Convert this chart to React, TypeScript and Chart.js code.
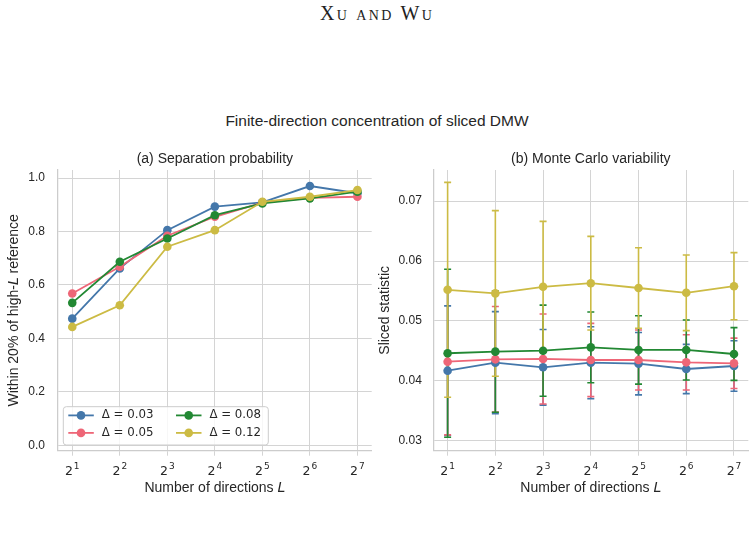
import React, { useEffect, useRef } from 'react';
import { Chart, registerables } from 'chart.js';

Chart.register(...registerables);

// ---------- data ----------
const directions = [2, 4, 8, 16, 32, 64, 128];
const deltaLabels = ['Δ = 0.03', 'Δ = 0.05', 'Δ = 0.08', 'Δ = 0.12'];
const seriesColors = ['#4477AA', '#EE6677', '#228833', '#CCBB44'];

// (a) Separation probability
const sepD003 = [0.474, 0.662, 0.805, 0.893, 0.909, 0.970, 0.943];
const sepD005 = [0.568, 0.668, 0.784, 0.855, 0.908, 0.926, 0.930];
const sepD008 = [0.533, 0.687, 0.774, 0.861, 0.905, 0.924, 0.949];
const sepD012 = [0.443, 0.524, 0.743, 0.805, 0.911, 0.930, 0.955];
const sepTicks = [0, 0.2, 0.4, 0.6, 0.8, 1.0];

// (b) Monte Carlo variability: means and error half-widths
const mcD003 = [0.04172, 0.04306, 0.04228, 0.04305, 0.04289, 0.04200, 0.04250];
const mcD005 = [0.04322, 0.04361, 0.04367, 0.04350, 0.04350, 0.04311, 0.04294];
const mcD008 = [0.04462, 0.04489, 0.04505, 0.04561, 0.04517, 0.04517, 0.04450];
const mcD012 = [0.0552, 0.0546, 0.0557, 0.0563, 0.0555, 0.0547, 0.0558];
const errD003 = [0.0108, 0.0085, 0.0063, 0.0060, 0.0052, 0.0041, 0.0042];
const errD005 = [0.0122, 0.0088, 0.0075, 0.0061, 0.0050, 0.0046, 0.0042];
const errD008 = [0.0140, 0.0101, 0.0076, 0.0059, 0.0057, 0.0050, 0.0044];
const errD012 = [0.0179, 0.0138, 0.0109, 0.0078, 0.0067, 0.0063, 0.0056];
const mcTicks = [0.03, 0.04, 0.05, 0.06, 0.07];

// ---------- style ----------
const GRID = '#d4d4d4';
const SPINE = '#cccccc';
const TEXT = '#262626';
const SANS = '"Liberation Sans", Arial, sans-serif';
const DEJAVU = '"DejaVu Sans", sans-serif';
const CAP = 3.5;
const LINE_W = 1.8;
const MARKER_R = 4.3;

type Seg = { t: string; italic?: boolean; family?: string };

interface PanelSpec {
  title: string;
  yLabel: Seg[];
  series: number[][];
  errors?: number[][];
  yMin: number;
  yMax: number;
  yTicks: number[];
  yDecimals: number;
  yWidth: number;
  padRight: number;
  tickPad: number;
  yLabelBaseX: number;
  legend: boolean;
}

function segFont(s: Seg, size: number) {
  return `${s.italic ? 'italic ' : ''}${size}px ${s.family ?? SANS}`;
}

function drawSegs(ctx: CanvasRenderingContext2D, segs: Seg[], size: number, cx: number, y: number) {
  const widths = segs.map((s) => {
    ctx.font = segFont(s, size);
    return ctx.measureText(s.t).width;
  });
  const total = widths.reduce((a, b) => a + b, 0);
  let x = cx - total / 2;
  ctx.textAlign = 'left';
  ctx.textBaseline = 'alphabetic';
  segs.forEach((s, i) => {
    ctx.font = segFont(s, size);
    ctx.fillText(s.t, x, y);
    x += widths[i];
  });
}

function makeDecor(spec: PanelSpec) {
  return {
    id: 'decor',
    beforeDatasetsDraw(chart: any) {
      if (!spec.errors) return;
      const ctx: CanvasRenderingContext2D = chart.ctx;
      const xs = chart.scales.x;
      const ys = chart.scales.y;
      ctx.save();
      spec.series.forEach((vals, i) => {
        ctx.strokeStyle = seriesColors[i];
        ctx.lineWidth = 1.6;
        vals.forEach((m, j) => {
          const e = spec.errors![i][j];
          const x = xs.getPixelForValue(Math.log2(directions[j]));
          const yt = ys.getPixelForValue(m + e);
          const yb = ys.getPixelForValue(m - e);
          ctx.beginPath();
          ctx.moveTo(x, yb);
          ctx.lineTo(x, yt);
          ctx.moveTo(x - CAP, yt);
          ctx.lineTo(x + CAP, yt);
          ctx.moveTo(x - CAP, yb);
          ctx.lineTo(x + CAP, yb);
          ctx.stroke();
        });
      });
      ctx.restore();
    },
    afterDraw(chart: any) {
      const ctx: CanvasRenderingContext2D = chart.ctx;
      const a = chart.chartArea;
      const xs = chart.scales.x;
      const cx = (a.left + a.right) / 2;
      ctx.save();
      ctx.fillStyle = TEXT;

      // subplot title
      drawSegs(ctx, [{ t: spec.title }], 14, cx, a.top - 7.5);

      // x tick labels 2^k
      directions.forEach((d) => {
        const k = Math.log2(d);
        const px = xs.getPixelForValue(k);
        const base = '2';
        const sup = String(k);
        ctx.font = `12.5px ${DEJAVU}`;
        const wb = ctx.measureText(base).width;
        ctx.font = `9px ${DEJAVU}`;
        const ws = ctx.measureText(sup).width;
        const x0 = px - (wb + ws + 1) / 2;
        ctx.textAlign = 'left';
        ctx.textBaseline = 'alphabetic';
        ctx.font = `12.5px ${DEJAVU}`;
        ctx.fillText(base, x0, a.bottom + 24.5);
        ctx.font = `9px ${DEJAVU}`;
        ctx.fillText(sup, x0 + wb + 1, a.bottom + 18);
      });

      // x axis label
      drawSegs(
        ctx,
        [{ t: 'Number of directions ' }, { t: 'L', italic: true, family: DEJAVU }],
        14,
        cx,
        a.bottom + 41
      );

      // y axis label (rotated)
      ctx.save();
      ctx.translate(spec.yLabelBaseX, (a.top + a.bottom) / 2);
      ctx.rotate(-Math.PI / 2);
      drawSegs(ctx, spec.yLabel, 14, 0, 0);
      ctx.restore();

      // legend
      if (spec.legend) {
        const bw = 205;
        const bh = 38.3;
        const bx = a.left + 5.3;
        const by = a.bottom - 5.7 - bh;
        ctx.beginPath();
        (ctx as any).roundRect(bx, by, bw, bh, 3);
        ctx.fillStyle = 'rgba(255,255,255,0.8)';
        ctx.fill();
        ctx.strokeStyle = SPINE;
        ctx.lineWidth = 1;
        ctx.stroke();
        const colX = [bx + 5, bx + 112.7];
        const rowY = [by + 8.7, by + 26.2];
        deltaLabels.forEach((lab, i) => {
          const lx = colX[Math.floor(i / 2)];
          const ly = rowY[i % 2];
          ctx.strokeStyle = seriesColors[i];
          ctx.lineWidth = LINE_W;
          ctx.beginPath();
          ctx.moveTo(lx, ly);
          ctx.lineTo(lx + 25.5, ly);
          ctx.stroke();
          ctx.fillStyle = seriesColors[i];
          ctx.beginPath();
          ctx.arc(lx + 12.7, ly, MARKER_R, 0, Math.PI * 2);
          ctx.fill();
          ctx.fillStyle = TEXT;
          ctx.font = `11.8px ${DEJAVU}`;
          ctx.textAlign = 'left';
          ctx.textBaseline = 'middle';
          ctx.fillText(lab, lx + 33.4, ly);
        });
      }
      ctx.restore();
    },
  };
}

function Panel({ spec, left }: { spec: PanelSpec; left: number }) {
  const ref = useRef<HTMLCanvasElement>(null);
  useEffect(() => {
    const datasets = spec.series.map((vals, i) => ({
      label: deltaLabels[i],
      data: vals.map((v, j) => ({ x: Math.log2(directions[j]), y: v })),
      borderColor: seriesColors[i],
      backgroundColor: seriesColors[i],
      pointBackgroundColor: seriesColors[i],
      pointBorderColor: seriesColors[i],
      borderWidth: LINE_W,
      pointRadius: MARKER_R,
      pointBorderWidth: 0,
      tension: 0,
      order: 4 - i,
    }));
    const chart = new Chart(ref.current!, {
      type: 'line',
      data: { datasets },
      plugins: [makeDecor(spec)],
      options: {
        animation: false,
        responsive: false,
        devicePixelRatio: 1,
        layout: { padding: { left: 0, top: 40, right: spec.padRight, bottom: 0 } },
        plugins: { legend: { display: false }, tooltip: { enabled: false }, title: { display: false } },
        scales: {
          x: {
            type: 'linear',
            min: 0.7,
            max: 7.3,
            afterBuildTicks: (s: any) => {
              s.ticks = directions.map((d) => ({ value: Math.log2(d) }));
            },
            afterFit: (s: any) => {
              s.height = 79.3;
            },
            ticks: { display: false },
            grid: { color: GRID, lineWidth: 1, drawTicks: true, tickLength: 5, tickColor: GRID },
            border: { display: true, color: SPINE, width: 1.25 },
          },
          y: {
            type: 'linear',
            min: spec.yMin,
            max: spec.yMax,
            afterBuildTicks: (s: any) => {
              s.ticks = spec.yTicks.map((v) => ({ value: v }));
            },
            afterFit: (s: any) => {
              s.width = spec.yWidth;
            },
            ticks: {
              font: { family: '"Liberation Sans", Arial, sans-serif', size: 12 },
              color: TEXT,
              padding: spec.tickPad,
              callback: (v: any) => Number(v).toFixed(spec.yDecimals),
            },
            grid: { color: GRID, lineWidth: 1, drawTicks: false },
            border: { display: true, color: SPINE, width: 1.25 },
          },
        },
      } as any,
    });
    return () => chart.destroy();
  }, []);
  return (
    <canvas
      ref={ref}
      width={380}
      height={400}
      style={{ position: 'absolute', left, top: 130, width: 380, height: 400 }}
    />
  );
}

const leftSpec: PanelSpec = {
  title: '(a) Separation probability',
  yLabel: [{ t: 'Within 20% of high-' }, { t: 'L', italic: true, family: DEJAVU }, { t: ' reference' }],
  series: [sepD003, sepD005, sepD008, sepD012],
  yMin: -0.02,
  yMax: 1.03,
  yTicks: sepTicks,
  yDecimals: 1,
  yWidth: 58,
  padRight: 8.3,
  tickPad: 13,
  yLabelBaseX: 17.5,
  legend: true,
};

const rightSpec: PanelSpec = {
  title: '(b) Monte Carlo variability',
  yLabel: [{ t: 'Sliced statistic' }],
  series: [mcD003, mcD005, mcD008, mcD012],
  errors: [errD003, errD005, errD008, errD012],
  yMin: 0.02838,
  yMax: 0.07517,
  yTicks: mcTicks,
  yDecimals: 2,
  yWidth: 59.3,
  padRight: 5.7,
  tickPad: 11.5,
  yLabelBaseX: 15,
  legend: false,
};

export default function App() {
  return (
    <div
      style={{
        position: 'fixed',
        left: 0,
        top: 0,
        width: 754,
        height: 542,
        background: '#ffffff',
        overflow: 'hidden',
      }}
    >
      <div
        style={{
          position: 'absolute',
          left: 0,
          top: 1.3,
          width: 754,
          textAlign: 'center',
          fontFamily: '"Liberation Serif", serif',
          fontSize: 20,
          fontVariant: 'small-caps',
          letterSpacing: '2.3px',
          lineHeight: '24px',
          color: '#222222',
          whiteSpace: 'nowrap',
        }}
      >
        Xu and Wu
      </div>
      <div
        style={{
          position: 'absolute',
          left: 0,
          top: 110.8,
          width: 754,
          textAlign: 'center',
          fontFamily: SANS,
          fontSize: 15.5,
          lineHeight: '20px',
          color: TEXT,
          whiteSpace: 'nowrap',
        }}
      >
        Finite-direction concentration of sliced DMW
      </div>
      <Panel spec={leftSpec} left={0} />
      <Panel spec={rightSpec} left={374} />
    </div>
  );
}
